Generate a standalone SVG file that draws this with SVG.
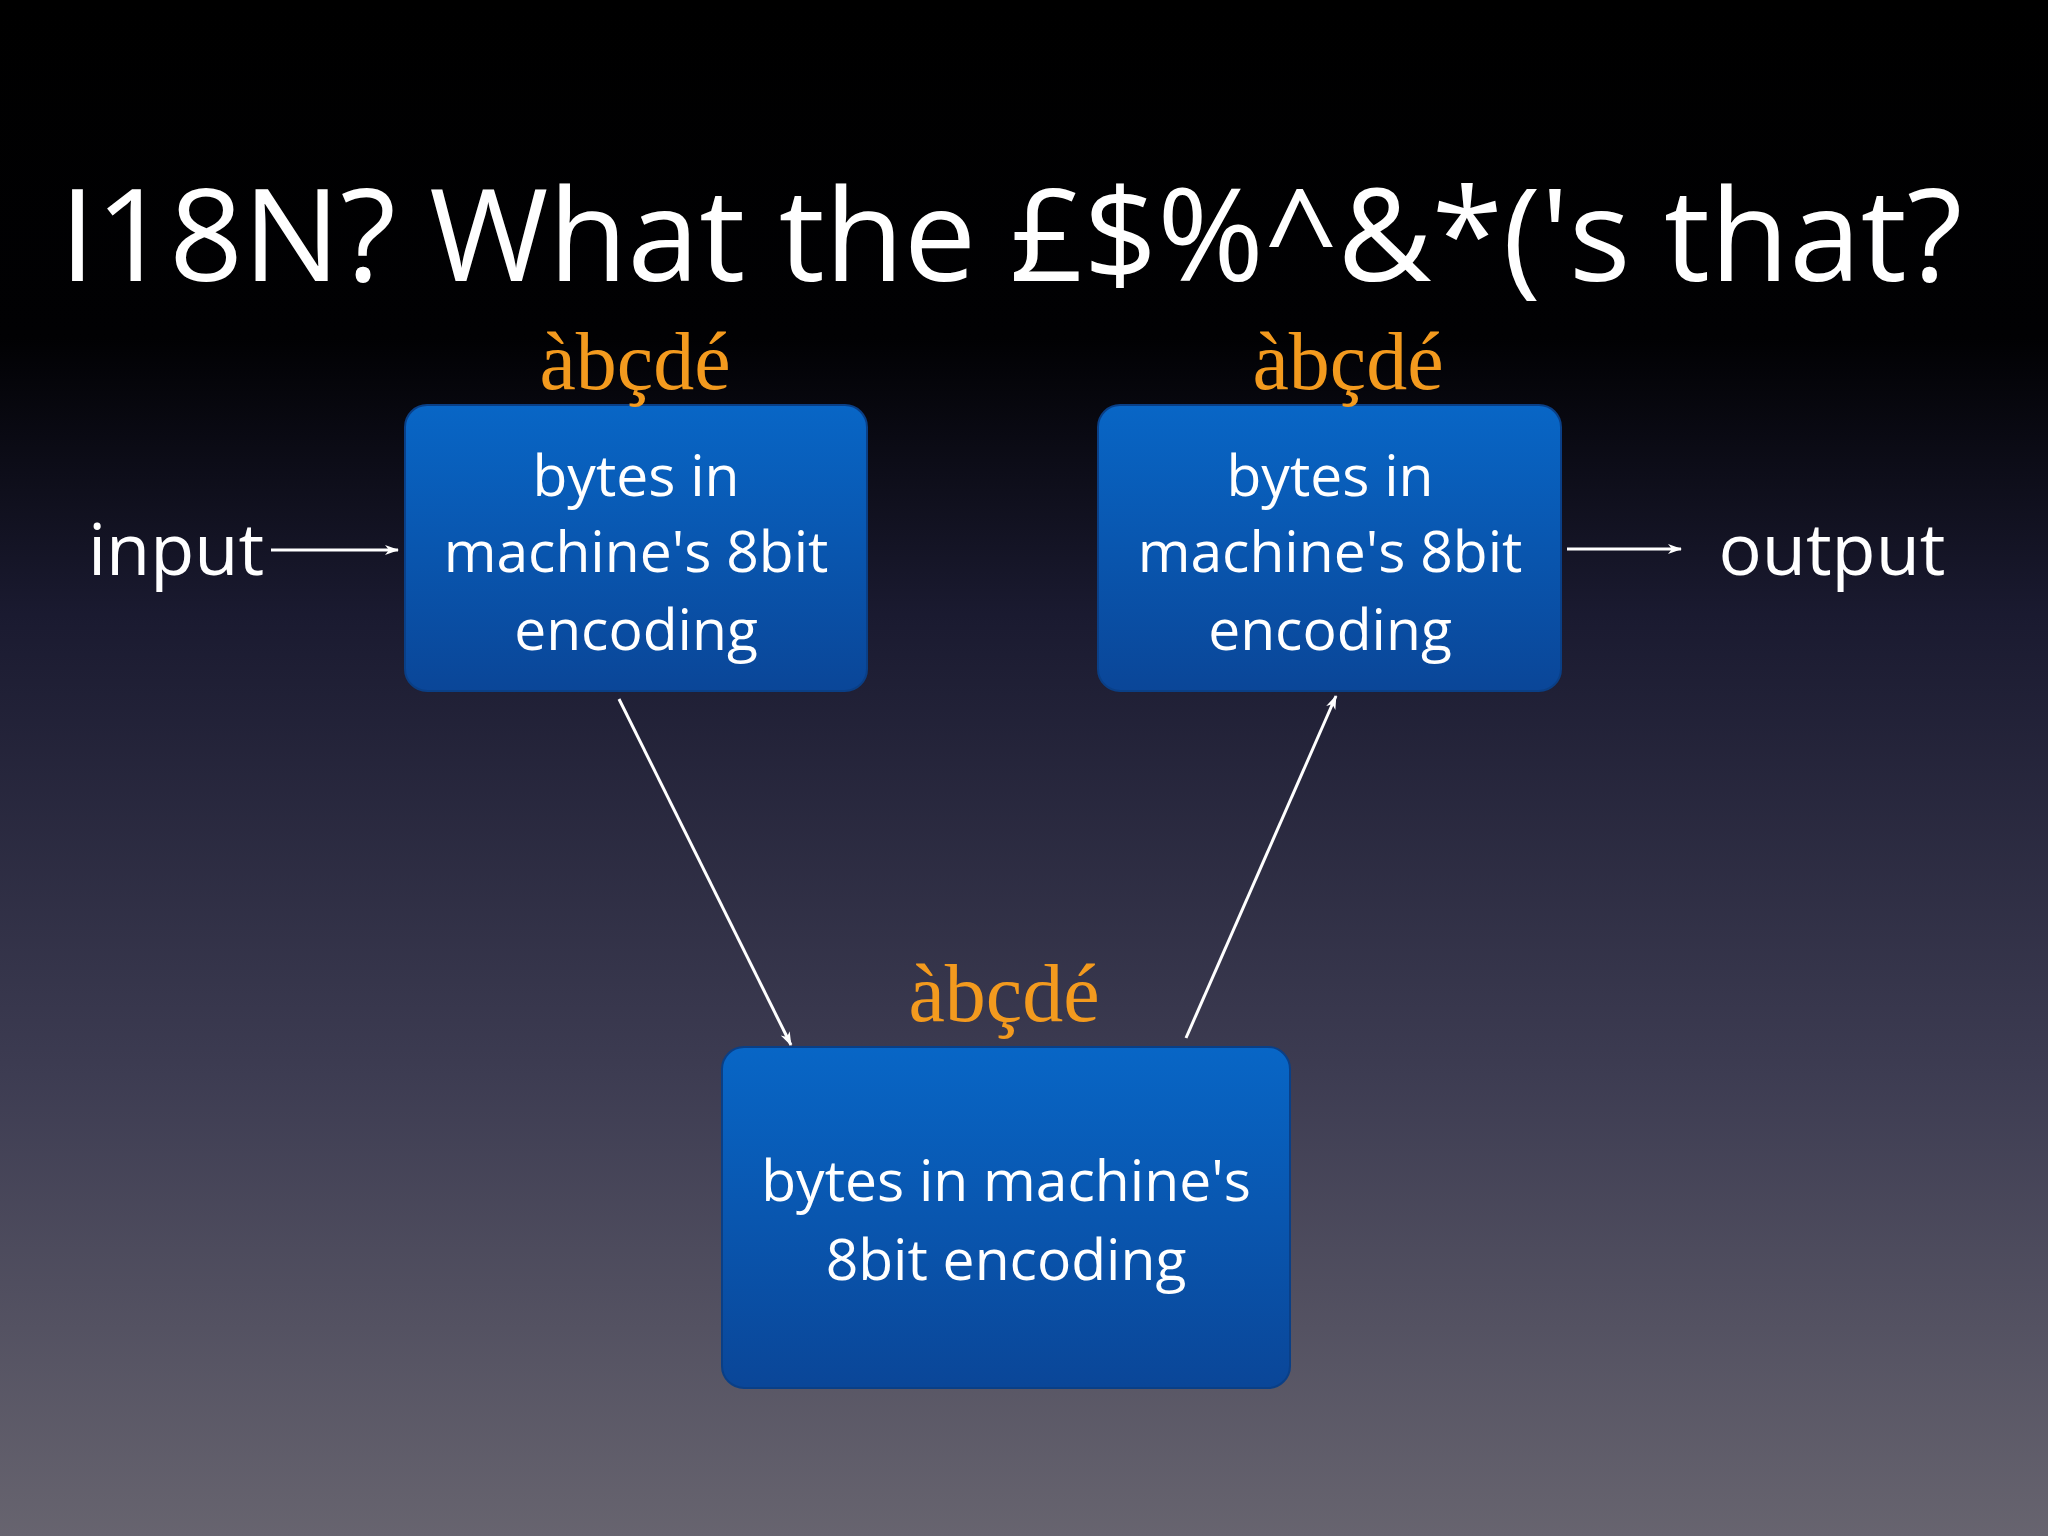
<svg xmlns="http://www.w3.org/2000/svg" width="2048" height="1536" viewBox="0 0 2048 1536">
<defs>
<linearGradient id="bg" x1="0" y1="0" x2="0" y2="1">
<stop offset="0" stop-color="#000000"/>
<stop offset="0.22" stop-color="#010103"/>
<stop offset="0.4" stop-color="#1a1a30"/>
<stop offset="0.7" stop-color="#3d3c52"/>
<stop offset="1" stop-color="#67646f"/>
</linearGradient>
<linearGradient id="box" x1="0" y1="0" x2="0" y2="1">
<stop offset="0" stop-color="#0866c6"/>
<stop offset="1" stop-color="#0a4698"/>
</linearGradient>
<marker id="ah2" markerWidth="14" markerHeight="14" refX="13" refY="7" orient="auto" markerUnits="userSpaceOnUse" viewBox="0 0 14 14">
<path d="M0,2 L14,7 L0,12 L4,7 Z" fill="#fff"/>
</marker>
</defs>
<style>
.t{font-family:"Open Sans","Lato",sans-serif;fill:#fff;text-anchor:middle}
.bt{font-family:"Open Sans","Lato",sans-serif;fill:#fff;text-anchor:middle;font-size:57px}
.o{font-family:"Liberation Serif",serif;fill:#f39a1e;text-anchor:middle;font-size:82px}
.b{fill:url(#box);stroke:#0a3f86;stroke-width:2}
.c{stroke:#fff;stroke-width:3;fill:none;marker-end:url(#ah2)}
</style>
<rect width="2048" height="1536" fill="url(#bg)"/>
<text class="t" x="1011" y="281" font-size="129">I18N? What the £$%^&amp;*('s that?</text>
<g id="box1">
<rect class="b" x="405" y="405" width="462" height="286" rx="22"/>
<text class="o" x="635" y="389">àbçdé</text>
<text class="bt" x="636" y="496">bytes in</text>
<text class="bt" x="636" y="572">machine's 8bit</text>
<text class="bt" x="636" y="650">encoding</text>
</g>
<g id="box2">
<rect class="b" x="1098" y="405" width="463" height="286" rx="22"/>
<text class="o" x="1348" y="389">àbçdé</text>
<text class="bt" x="1330" y="496">bytes in</text>
<text class="bt" x="1330" y="572">machine's 8bit</text>
<text class="bt" x="1330" y="650">encoding</text>
</g>
<g id="box3">
<rect class="b" x="722" y="1047" width="568" height="341" rx="22"/>
<text class="o" x="1004" y="1021">àbçdé</text>
<text class="bt" x="1006" y="1201">bytes in machine's</text>
<text class="bt" x="1006" y="1280">8bit encoding</text>
</g>
<g id="input"><text class="t" x="176" y="575" font-size="72">input</text></g>
<g id="output"><text class="t" x="1832" y="575" font-size="72">output</text></g>
<g id="connectors">
<line class="c" x1="271" y1="550" x2="398" y2="550"/>
<line class="c" x1="1567" y1="549" x2="1681" y2="549"/>
<line class="c" x1="619" y1="699" x2="791" y2="1045"/>
<line class="c" x1="1186" y1="1038" x2="1336" y2="696"/>
</g>
</svg>
